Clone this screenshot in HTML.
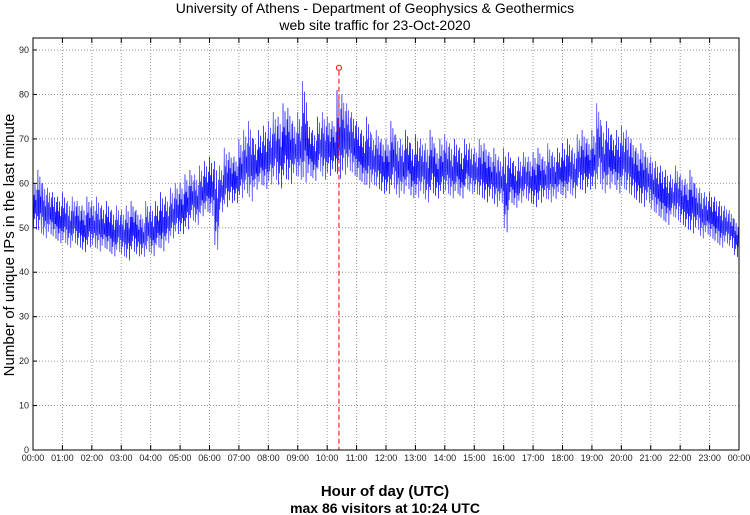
<!DOCTYPE html>
<html><head><meta charset="utf-8"><style>
body{margin:0;background:#fff;}
svg{display:block;font-family:"Liberation Sans",sans-serif;}
</style></head><body>
<svg id="chart" width="750" height="515" viewBox="0 0 750 515">
<text x="375" y="13" text-anchor="middle" font-size="14">University of Athens - Department of Geophysics &amp; Geothermics</text>
<text x="375" y="30" text-anchor="middle" font-size="14">web site traffic for 23-Oct-2020</text>
<text x="385" y="496" text-anchor="middle" font-size="15" font-weight="bold">Hour of day (UTC)</text>
<text x="385" y="513" text-anchor="middle" font-size="14" font-weight="bold">max 86 visitors at 10:24 UTC</text>
<text transform="translate(14,245) rotate(-90)" text-anchor="middle" font-size="15">Number of unique IPs in the last minute</text>
<g id="grid"></g><g id="series"></g><g id="marks"></g>
<rect x="33" y="38" width="706" height="412" fill="none" stroke="#000" stroke-width="1"/>
</svg>
<script>
const yTicks=[0,10,20,30,40,50,60,70,80,90];
const xTickLabels=["00:00","01:00","02:00","03:00","04:00","05:00","06:00","07:00","08:00","09:00","10:00","11:00","12:00","13:00","14:00","15:00","16:00","17:00","18:00","19:00","20:00","21:00","22:00","23:00","00:00"];
const hiEnv=[61,63,60,59,58,57,58,56,57,56,55,57,56,57,55,56,54,55,54,55,56,54,53,56,55,56,58,57,59,60,60,62,63,62,64,65,66,65,64,68,67,66,70,72,74,70,72,73,74,76,75,78,77,74,76,83,74,72,75,76,75,74,81,80,78,76,74,72,75,71,72,70,70,74,71,70,72,69,71,70,69,72,68,70,71,69,70,68,70,69,68,70,69,67,68,66,68,67,65,66,67,66,67,68,66,69,67,68,69,70,68,71,72,70,72,78,73,74,71,72,73,72,70,68,69,67,66,65,64,63,62,64,62,61,63,60,59,58,58,57,56,55,54,52];
const loEnv=[49,48,47,48,47,46,46,45,46,45,44,45,45,44,45,44,43,44,43,42,44,43,43,44,43,45,44,46,47,48,48,49,51,50,52,53,52,44,53,54,55,55,56,57,55,58,59,58,59,60,58,60,59,61,60,59,61,60,62,60,61,62,60,61,62,61,60,59,58,59,58,57,57,58,56,57,58,56,56,57,55,57,56,57,57,56,57,56,58,57,57,56,55,56,54,55,48,55,54,55,56,55,54,55,56,55,56,57,56,57,56,58,57,58,58,59,57,58,59,57,58,57,56,55,54,55,53,52,51,50,52,51,50,49,48,49,47,48,47,46,45,46,45,43];
const maxValue=[86];
const maxMinute=[624];
const X0=33,X1=739,Y0=450,Ytop=50;
const xs=m=>X0+(X1-X0)*m/1440;
const ys=v=>Y0-(Y0-Ytop)*v/90;
const NS="http://www.w3.org/2000/svg";
function mk(t,a,p){const e=document.createElementNS(NS,t);for(const k in a)e.setAttribute(k,a[k]);p.appendChild(e);return e;}
const grid=document.getElementById('grid'),marks=document.getElementById('marks'),series=document.getElementById('series');
yTicks.forEach(v=>{
  const y=ys(v);
  if(v>0){const l=mk('line',{x1:X0,x2:X1,y1:y,y2:y,stroke:'#999','stroke-dasharray':'1,2'},grid);
  
  }
  const t=mk('text',{x:X0-4,y:y+3,'text-anchor':'end','font-size':9,fill:'#222'},grid);
  t.textContent=v;
  
  
  mk('line',{x1:X0,x2:X0+4,y1:y,y2:y,stroke:'#000'},grid);
});
xTickLabels.forEach((s,i)=>{
  const x=xs(i*60);
  if(i>0&&i<24){const l=mk('line',{x1:x,x2:x,y1:38,y2:Y0,stroke:'#999','stroke-dasharray':'1,2'},grid);
  
  
  mk('line',{x1:x,x2:x,y1:38,y2:43,stroke:'#000'},grid);
  mk('line',{x1:x,x2:x,y1:Y0-5,y2:Y0,stroke:'#000'},grid);}
  const t=mk('text',{x:x,y:461,'text-anchor':'middle','font-size':9,fill:'#222'},grid);
  t.textContent=s;
  
  
});
const w=[1,0.1,0.7,0.25,0.9,0.35,0.6,0.05,0.8,0.3];
let pts=[];
for(let m=0;m<1440;m++){const b=Math.floor(m/10);const v=loEnv[b]+(hiEnv[b]-loEnv[b])*w[m%10];pts.push(xs(m).toFixed(1)+','+ys(v).toFixed(1));}
const pl=mk('polyline',{points:pts.join(' '),fill:'none',stroke:'#0000ff','stroke-width':0.5},series);


const mx=xs(maxMinute[0]),my=ys(maxValue[0]);
const dl=mk('line',{x1:mx,x2:mx,y1:my+3,y2:Y0,stroke:'#ff0000','stroke-dasharray':'5,3'},marks);


const c=mk('circle',{cx:mx,cy:my,r:2.5,fill:'none',stroke:'#ff0000'},marks);


</script>
</body></html>
